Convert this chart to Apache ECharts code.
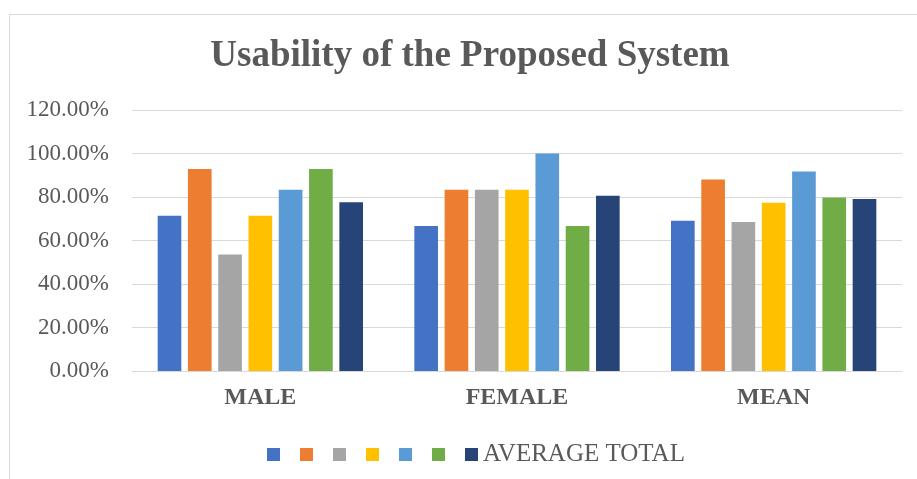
<!DOCTYPE html>
<html>
<head>
<meta charset="utf-8">
<script src="https://cdn.jsdelivr.net/npm/echarts@6/dist/echarts.min.js"></script>
<style>
html,body{margin:0;padding:0;background:#fff;overflow:hidden;width:917px;height:479px;}
#c{position:absolute;left:0;top:0;width:940px;height:479px;}
</style>
</head>
<body>
<div id="c"></div>
<script>
const categories = ['MALE', 'FEMALE', 'MEAN'];
const seriesNames = ['s1', 's2', 's3', 's4', 's5', 's6', 'AVERAGE TOTAL'];
const s1 = [0.7143, 0.6667, 0.6905];
const s2 = [0.9286, 0.8333, 0.8810];
const s3 = [0.5357, 0.8333, 0.6845];
const s4 = [0.7143, 0.8333, 0.7738];
const s5 = [0.8333, 1.0000, 0.9167];
const s6 = [0.9286, 0.6667, 0.7976];
const averageTotal = [0.7758, 0.8056, 0.7907];
const seriesValues = [s1, s2, s3, s4, s5, s6, averageTotal];
const visibleLegendNames = ['AVERAGE TOTAL'];
const colors = ['#4472C4', '#ED7D31', '#A5A5A5', '#FFC000', '#5B9BD5', '#70AD47', '#264478'];

const font = 'Liberation Serif, Times New Roman, serif';
const chart = echarts.init(document.getElementById('c'), null, {renderer: 'canvas'});
chart.setOption({
  animation: false,
  color: colors,
  graphic: [{
    type: 'rect',
    shape: {x: 9.5, y: 14.5, width: 1200, height: 1000},
    style: {fill: 'none', stroke: '#d9d9d9', lineWidth: 1},
    silent: true, z: -1
  }],
  title: {
    text: 'Usability of the Proposed System',
    left: 'center',
    top: 33,
    textStyle: {fontFamily: font, fontSize: 37, fontWeight: 'bold', color: '#595959'}
  },
  legend: {
    data: seriesNames,
    left: 262,
    top: 437,
    itemWidth: 13,
    itemHeight: 13,
    itemGap: 20,
    icon: 'rect',
    formatter: function (name) { return visibleLegendNames.indexOf(name) >= 0 ? name : ''; },
    textStyle: {fontFamily: font, fontSize: 25, color: '#595959'}
  },
  grid: {left: 132, right: 38, top: 110, bottom: 108, containLabel: false},
  xAxis: {
    type: 'category',
    data: categories,
    axisLine: {lineStyle: {color: '#d9d9d9', width: 1}},
    axisTick: {show: false},
    axisLabel: {fontFamily: font, fontSize: 24, fontWeight: 'bold', color: '#595959', margin: 15}
  },
  yAxis: {
    type: 'value',
    min: 0,
    max: 1.2,
    interval: 0.2,
    axisLine: {show: false},
    axisTick: {show: false},
    splitLine: {lineStyle: {color: '#d9d9d9', width: 1}},
    axisLabel: {
      fontFamily: font, fontSize: 23, color: '#595959', margin: 23,
      formatter: function (v) { return (v * 100).toFixed(2) + '%'; }
    }
  },
  series: seriesNames.map(function (n, i) {
    return {
      name: n,
      type: 'bar',
      data: seriesValues[i],
      barGap: '28%',
      barCategoryGap: '20%',
      itemStyle: {color: colors[i]}
    };
  })
});
</script>
</body>
</html>
